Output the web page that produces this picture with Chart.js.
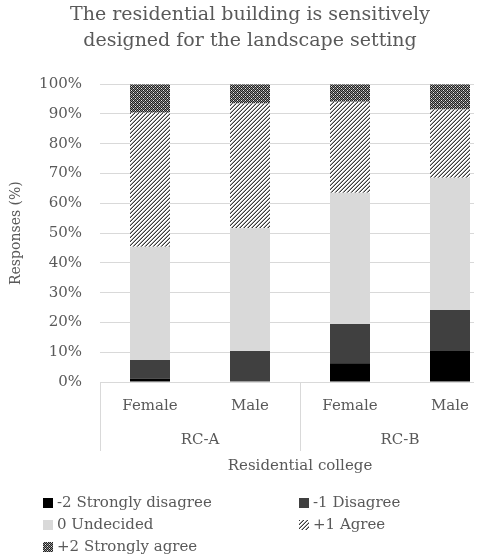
<!DOCTYPE html>
<html>
<head>
<meta charset="utf-8">
<script src="https://cdn.jsdelivr.net/npm/chart.js@4"></script>
<style>
  html, body { margin: 0; padding: 0; background: #fff; }
  #wrap { position: relative; width: 496px; height: 560px; overflow: hidden; }
  #chartBox { position: absolute; left: 0; top: 0; width: 500px; height: 560px; }
</style>
</head>
<body>
<div id="wrap">
  <div id="chartBox"><canvas id="c" width="500" height="560"></canvas></div>
</div>
<script>
// ---- data ----
const titleLines = ['The residential building is sensitively', 'designed for the landscape setting'];
const categories = ['Female', 'Male', 'Female', 'Male'];
const groups = ['RC-A', 'RC-B'];
const seriesNames = ['-2 Strongly disagree', '-1 Disagree', '0 Undecided', '+1 Agree', '+2 Strongly agree'];
const stronglyDisagree = [1.2, 0, 6.3, 10.4];
const disagree = [6.2, 10.4, 13.2, 13.8];
const undecided = [38.0, 41.2, 44.0, 44.4];
const agree = [45.0, 41.9, 30.6, 22.9];
const stronglyAgree = [9.6, 6.5, 5.9, 8.5];
const yTicks = [0, 10, 20, 30, 40, 50, 60, 70, 80, 90, 100];
const yTitle = 'Responses (%)';
const xTitle = 'Residential college';

// ---- patterns ----
function makeTile(rows, map) {
  const t = document.createElement('canvas');
  t.width = rows[0].length; t.height = rows.length;
  const c = t.getContext('2d');
  rows.forEach((r, y) => { for (let x = 0; x < r.length; x++) { c.fillStyle = map[r[x]]; c.fillRect(x, y, 1, 1); } });
  return t;
}
const pctx = document.createElement('canvas').getContext('2d');
const agreeTile = makeTile(['WWGD', 'WGDW', 'GDWW', 'DWWG'], { W: '#ffffff', G: '#a6a6a6', D: '#3a3a3a' });
const sAgreeTile = makeTile(['DWDG', 'GDGD', 'DGDW', 'GDGD'], { W: '#e8e8e8', G: '#8a8a8a', D: '#202020' });
const agreePattern = pctx.createPattern(agreeTile, 'repeat');
const sAgreePattern = pctx.createPattern(sAgreeTile, 'repeat');
const fills = ['#000000', '#404040', '#d9d9d9', agreePattern, sAgreePattern];
const seriesData = [stronglyDisagree, disagree, undecided, agree, stronglyAgree];

const fontFamily = "'DejaVu Serif', serif";
Chart.defaults.font.family = fontFamily;
Chart.defaults.color = '#595959';
const gridGray = '#d9d9d9';

// Gridlines end where the reference plot is cut; separators between groups; two-column legend
const legendSlots = [[43, 503], [299, 503], [43, 525], [299, 525], [43, 547]];
const decor = {
  id: 'decor',
  beforeDatasetsDraw(chart) {
    const a = chart.chartArea, c = chart.ctx;
    c.save();
    c.fillStyle = '#ffffff';
    c.fillRect(474, a.top - 2, chart.width - 474, a.bottom - a.top + 4);
    c.restore();
  },
  afterDraw(chart) {
    const x = chart.scales.x, a = chart.chartArea, c = chart.ctx;
    const step = x.getPixelForValue(1) - x.getPixelForValue(0);
    c.save();
    c.strokeStyle = gridGray;
    c.lineWidth = 1;
    for (let i = 0; i < categories.length; i += 2) {
      const px = Math.round(x.getPixelForValue(i) - step / 2) + 0.5;
      c.beginPath();
      c.moveTo(px, a.bottom);
      c.lineTo(px, a.bottom + 69);
      c.stroke();
    }
    // legend
    c.font = '15px ' + fontFamily;
    c.textBaseline = 'middle';
    c.textAlign = 'left';
    chart.data.datasets.forEach((ds, i) => {
      const [lx, ly] = legendSlots[i];
      c.fillStyle = ds.backgroundColor;
      c.fillRect(lx, ly - 5, 10, 10);
      c.fillStyle = '#595959';
      c.fillText(ds.label, lx + 14, ly);
    });
    c.restore();
  }
};

const chart = new Chart(document.getElementById('c'), {
  type: 'bar',
  data: {
    labels: categories,
    datasets: seriesNames.map((n, i) => ({
      label: n,
      data: seriesData[i],
      backgroundColor: fills[i],
      borderWidth: 0,
      categoryPercentage: 1.0,
      barPercentage: 0.4,
      xAxisID: 'x',
      yAxisID: 'y'
    }))
  },
  plugins: [decor],
  options: {
    responsive: false,
    animation: false,
    layout: { padding: { left: 0, right: 0, top: 0, bottom: 85 } },
    plugins: {
      legend: { display: false },
      tooltip: { enabled: false },
      title: {
        display: true,
        text: titleLines,
        color: '#595959',
        font: { size: 19, weight: 'normal', lineHeight: 1.32 },
        padding: { top: 3, bottom: 31 }
      }
    },
    scales: {
      y: {
        stacked: true,
        min: 0, max: 100,
        afterFit: (s) => { s.width = 100; },
        afterBuildTicks: (s) => { s.ticks = yTicks.map(v => ({ value: v })); },
        ticks: { callback: (v) => v + '%', font: { size: 15 }, padding: 18, color: '#595959' },
        grid: { color: gridGray, drawTicks: false },
        border: { display: false },
        title: { display: true, text: yTitle, font: { size: 14 }, color: '#595959', padding: { top: 8, bottom: 0 } }
      },
      x: {
        stacked: true,
        position: 'bottom',
        offset: true,
        afterFit: (s) => { s.height = 33; },
        grid: { display: false, drawTicks: false },
        border: { display: true, color: gridGray },
        ticks: { font: { size: 15 }, padding: 15, color: '#595959', maxRotation: 0, autoSkip: false }
      },
      x2: {
        type: 'category',
        labels: groups,
        position: 'bottom',
        offset: true,
        afterFit: (s) => { s.height = 60; },
        grid: { display: false, drawTicks: false },
        border: { display: false },
        ticks: { font: { size: 15 }, padding: 16, color: '#595959', maxRotation: 0 },
        title: { display: true, text: xTitle, font: { size: 15 }, color: '#595959', padding: { top: 8, bottom: 0 } }
      }
    }
  }
});
</script>
</body>
</html>
